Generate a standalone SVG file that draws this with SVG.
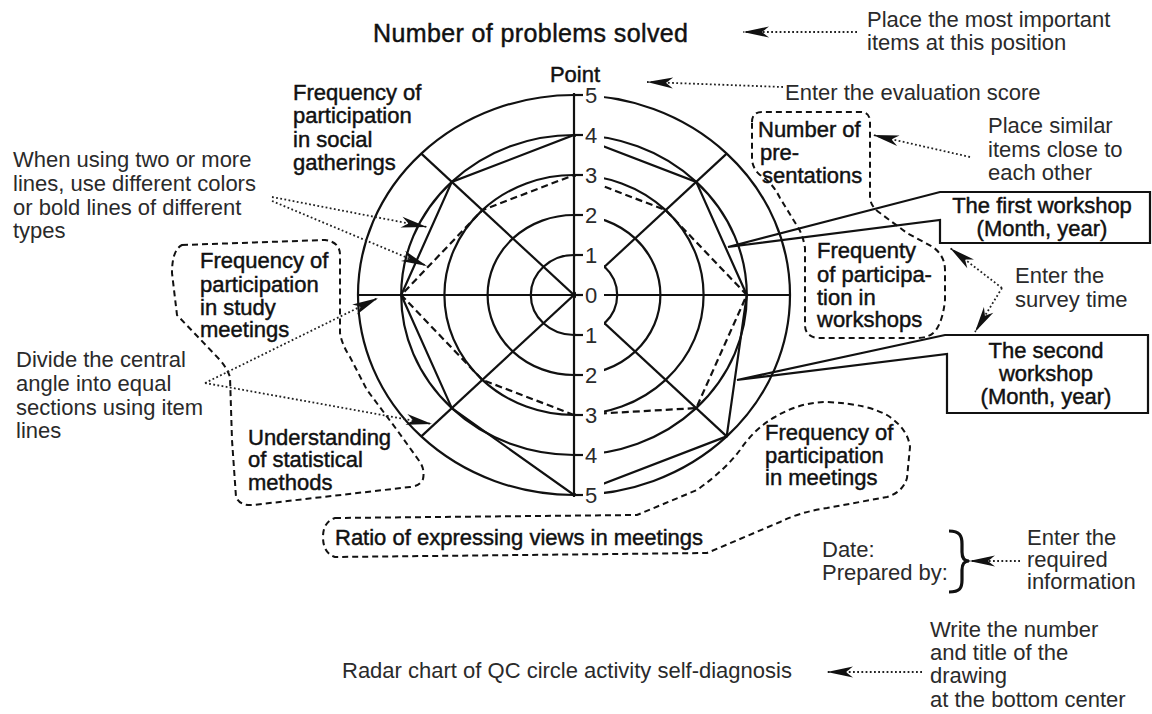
<svg xmlns="http://www.w3.org/2000/svg" width="1152" height="714" viewBox="0 0 1152 714">
<style>
.lb{font-family:"Liberation Sans",Arial,sans-serif;font-size:22px;fill:#111;stroke:#111;stroke-width:0.45px}
.an{font-family:"Liberation Sans",Arial,sans-serif;font-size:22px;fill:#2a2a2a}
.num{font-family:"Liberation Sans",Arial,sans-serif;font-size:22px;fill:#2a2a2a;text-anchor:middle}
.ln{fill:none;stroke:#111;stroke-width:2.2}
.dsh{fill:none;stroke:#111;stroke-width:2.2;stroke-dasharray:7 4}
.blob{fill:none;stroke:#111;stroke-width:2;stroke-dasharray:6 4}
.dot{fill:none;stroke:#222;stroke-width:1.8;stroke-dasharray:1.8 2.4;marker-end:url(#ah)}
</style>
<defs>
<marker id="ah" viewBox="-28 -7 30 14" refX="0" refY="0" markerWidth="30" markerHeight="14" markerUnits="userSpaceOnUse" orient="auto">
<path d="M0,0 L-26,-5.5 Q-21,-1.5 -19,0 Q-21,1.5 -26,5.5 Z" fill="#111"/>
</marker>
</defs>
<rect width="1152" height="714" fill="#fff"/>

<g id="chart">
<ellipse class="ln" cx="574" cy="295" rx="43.2" ry="40"/>
<ellipse class="ln" cx="574" cy="295" rx="86.4" ry="80"/>
<ellipse class="ln" cx="574" cy="295" rx="129.6" ry="120"/>
<ellipse class="ln" cx="574" cy="295" rx="172.8" ry="160"/>
<ellipse class="ln" cx="574" cy="295" rx="216" ry="200"/>
<line class="ln" x1="358" y1="295" x2="790" y2="295"/>
<line class="ln" x1="421.3" y1="153.6" x2="726.7" y2="436.4"/>
<line class="ln" x1="726.7" y1="153.6" x2="421.3" y2="436.4"/>
<polygon id="series-solid" class="ln" points="574,135 696.2,181.9 746.8,295 726.7,436.4 574,495 451.8,408.1 401.2,295 451.8,181.9"/>
<polygon id="series-dashed" class="dsh" points="574,175 665.6,210.1 746.8,295 696.2,408.1 574,415 482.4,379.9 401.2,295 482.4,210.1"/>
<rect x="576" y="88" width="28" height="414" fill="#fff"/>
<line class="ln" x1="574" y1="93" x2="574" y2="497"/>
<g class="ln">
<line x1="574" y1="95" x2="583" y2="95"/>
<line x1="574" y1="135" x2="583" y2="135"/>
<line x1="574" y1="175" x2="583" y2="175"/>
<line x1="574" y1="215" x2="583" y2="215"/>
<line x1="574" y1="255" x2="583" y2="255"/>
<line x1="574" y1="295" x2="583" y2="295"/>
<line x1="574" y1="335" x2="583" y2="335"/>
<line x1="574" y1="375" x2="583" y2="375"/>
<line x1="574" y1="415" x2="583" y2="415"/>
<line x1="574" y1="455" x2="583" y2="455"/>
<line x1="574" y1="495" x2="583" y2="495"/>
</g>
<g id="scale">
<text class="num" x="591" y="103">5</text>
<text class="num" x="591" y="143">4</text>
<text class="num" x="591" y="183">3</text>
<text class="num" x="591" y="223">2</text>
<text class="num" x="591" y="263">1</text>
<text class="num" x="591" y="303">0</text>
<text class="num" x="591" y="343">1</text>
<text class="num" x="591" y="383">2</text>
<text class="num" x="591" y="423">3</text>
<text class="num" x="591" y="463">4</text>
<text class="num" x="591" y="503">5</text>
</g>
</g>

<g id="blobs">
<path class="blob" d="M752,122 Q752,112 762,112 L860,112 Q870,112 870,122 L870,198 Q871,207 880,213 L907,233 L933,247 Q945,256 945,270 L945,300 Q943,320 936,330 Q930,338 917,338 L817,338 Q805,336 805,325 L805,248 Q803,236 799,229 L780,198 Q772,182 760,175 Q752,168 752,158 Z"/>
<path class="blob" d="M182,245 L325,240 Q340,242 340,255 L340,333 Q342,345 350,357 L367,390 L397,430 L420,462 Q425,470 423,479 Q420,486 410,487 L253,505 Q240,506 236,497 L232,440 L230,377 Q227,368 220,360 L177,315 L172,273 Q172,250 182,245 Z"/>
<path class="blob" d="M335,518 L637,515 L697,490 Q725,470 740,450 Q755,428 775,417 Q800,402 827,402 Q870,404 890,417 Q908,430 910,447 L907,478 Q903,492 887,497 L827,508 Q800,512 780,522 L707,553 L335,557 Q323,553 323,537 Q323,522 335,518 Z"/>
</g>

<g id="callout-first">
<path class="ln" d="M728,247 L940,192 L1150,192 L1150,243 L940,243 L940,220 Z"/>
<text class="lb" x="1042" y="213" text-anchor="middle">The first workshop</text>
<text class="lb" x="1042" y="236" text-anchor="middle">(Month, year)</text>
</g>
<g id="callout-second">
<path class="ln" d="M737,380 L945,335 L1148,335 L1148,413 L947,413 L947,354 Z"/>
<text class="lb" x="1046" y="358" text-anchor="middle">The second</text>
<text class="lb" x="1046" y="381" text-anchor="middle">workshop</text>
<text class="lb" x="1046" y="404" text-anchor="middle">(Month, year)</text>
</g>

<g id="item-top"><text class="lb" x="373" y="42" style="font-size:25px" textLength="315">Number of problems solved</text></g>
<g id="point-label"><text class="lb" x="575" y="82" text-anchor="middle">Point</text></g>
<g id="item-upper-left">
<text class="lb" x="293" y="100">Frequency of</text>
<text class="lb" x="293" y="123">participation</text>
<text class="lb" x="293" y="147">in social</text>
<text class="lb" x="293" y="170">gatherings</text>
</g>
<g id="item-left">
<text class="lb" x="200" y="268">Frequency of</text>
<text class="lb" x="200" y="292">participation</text>
<text class="lb" x="200" y="315">in study</text>
<text class="lb" x="200" y="337">meetings</text>
</g>
<g id="item-lower-left">
<text class="lb" x="248" y="445">Understanding</text>
<text class="lb" x="248" y="467">of statistical</text>
<text class="lb" x="248" y="490">methods</text>
</g>
<g id="item-bottom"><text class="lb" x="335" y="545">Ratio of expressing views in meetings</text></g>
<g id="item-upper-right">
<text class="lb" x="758" y="137">Number of</text>
<text class="lb" x="760" y="160">pre-</text>
<text class="lb" x="762" y="183">sentations</text>
</g>
<g id="item-right">
<text class="lb" x="817" y="258">Frequenty</text>
<text class="lb" x="817" y="282">of participa-</text>
<text class="lb" x="817" y="305">tion in</text>
<text class="lb" x="817" y="327">workshops</text>
</g>
<g id="item-lower-right">
<text class="lb" x="765" y="440">Frequency of</text>
<text class="lb" x="765" y="463">participation</text>
<text class="lb" x="765" y="485">in meetings</text>
</g>

<g id="note-important">
<text class="an" x="867" y="27">Place the most important</text>
<text class="an" x="867" y="50">items at this position</text>
</g>
<g id="note-score"><text class="an" x="785" y="100">Enter the evaluation score</text></g>
<g id="note-similar">
<text class="an" x="988" y="133">Place similar</text>
<text class="an" x="988" y="157">items close to</text>
<text class="an" x="988" y="180">each other</text>
</g>
<g id="note-lines">
<text class="an" x="13" y="167">When using two or more</text>
<text class="an" x="13" y="191">lines, use different colors</text>
<text class="an" x="13" y="215">or bold lines of different</text>
<text class="an" x="13" y="238">types</text>
</g>
<g id="note-divide">
<text class="an" x="16" y="367">Divide the central</text>
<text class="an" x="16" y="391">angle into equal</text>
<text class="an" x="16" y="415">sections using item</text>
<text class="an" x="16" y="438">lines</text>
</g>
<g id="note-survey">
<text class="an" x="1015" y="283">Enter the</text>
<text class="an" x="1015" y="307">survey time</text>
</g>
<g id="date-block">
<text class="an" x="822" y="557">Date:</text>
<text class="an" x="822" y="580">Prepared by:</text>
<path d="M949,531 C960,531 962,536 962,544 L962,552 C962,558 964,561 969,561 C964,561 962,564 962,570 L962,580 C962,588 960,592 949,592" fill="none" stroke="#111" stroke-width="3.2"/>
</g>
<g id="note-required">
<text class="an" x="1027" y="545">Enter the</text>
<text class="an" x="1027" y="567">required</text>
<text class="an" x="1027" y="589">information</text>
</g>
<g id="note-title">
<text class="an" x="930" y="637">Write the number</text>
<text class="an" x="930" y="660">and title of the</text>
<text class="an" x="930" y="683">drawing</text>
<text class="an" x="930" y="707">at the bottom center</text>
</g>
<g id="title"><text class="an" x="342" y="678">Radar chart of QC circle activity self-diagnosis</text></g>

<g id="connectors">
<line class="dot" x1="857" y1="32" x2="743" y2="32"/>
<line class="dot" x1="783" y1="87" x2="647" y2="82"/>
<line class="dot" x1="970" y1="157" x2="873" y2="135"/>
<line class="dot" x1="272" y1="197" x2="427" y2="227"/>
<line class="dot" x1="272" y1="201" x2="427" y2="266"/>
<line class="dot" x1="205" y1="383" x2="378" y2="298"/>
<line class="dot" x1="205" y1="383" x2="432" y2="424"/>
<line class="dot" x1="1002" y1="288" x2="950" y2="248"/>
<line class="dot" x1="1002" y1="288" x2="975" y2="332"/>
<line class="dot" x1="1020" y1="561" x2="969" y2="561"/>
<line class="dot" x1="922" y1="672" x2="827" y2="672"/>
</g>
</svg>
